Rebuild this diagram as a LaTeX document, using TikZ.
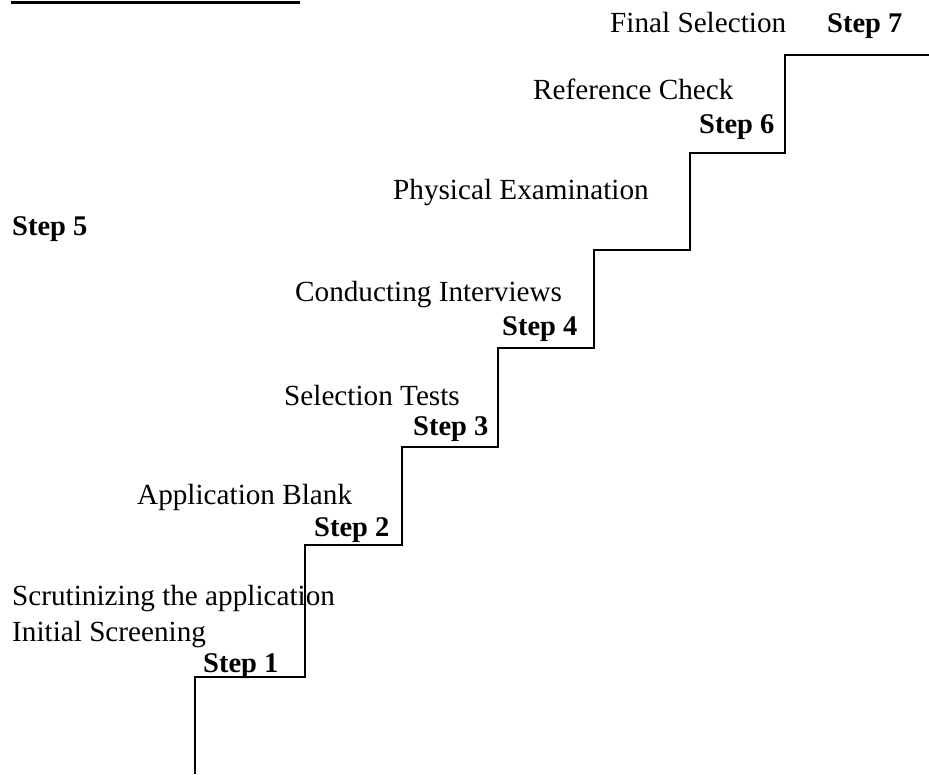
\documentclass[tikz,border=0pt]{standalone}
\usepackage{fontspec}
\setmainfont{Liberation Serif}
\tikzset{
  steptext/.style={anchor=base west,inner sep=0pt,font=\fontsize{29.2}{34}\selectfont},
  stepnum/.style={steptext,font=\fontsize{28.5}{34}\selectfont\bfseries}
}
\begin{document}
\begin{tikzpicture}[x=1pt,y=-1pt]
\useasboundingbox (0,0) rectangle (929,774);
\draw[line width=3pt] (11,2.5) -- (300,2.5);
\draw[line width=2pt] (195,774) -- (195,677) -- (305,677) -- (305,545) -- (402,545)
  -- (402,447) -- (498,447) -- (498,348) -- (594,348) -- (594,250) -- (690,250)
  -- (690,153) -- (785,153) -- (785,55) -- (929,55);

\node[steptext] (scrut) at (12,605) {Scrutinizing the application};
\node[steptext] (init) at (12,641) {Initial Screening};
\node[stepnum] (s1) at (203,672) {Step 1};
\node[steptext] (appl) at (137,504) {Application Blank};
\node[stepnum] (s2) at (314,536) {Step 2};
\node[steptext] (tests) at (284,405) {Selection Tests};
\node[stepnum] (s3) at (413,435) {Step 3};
\node[steptext] (interv) at (295,301) {Conducting Interviews};
\node[stepnum] (s4) at (502,335) {Step 4};
\node[stepnum] (s5) at (12,235) {Step 5};
\node[steptext] (phys) at (393,199) {Physical Examination};
\node[steptext] (refc) at (533,99) {Reference Check};
\node[stepnum] (s6) at (699,133) {Step 6};
\node[steptext] (final) at (610,32) {Final Selection};
\node[stepnum] (s7) at (827,32) {Step 7};
\end{tikzpicture}
\end{document}
